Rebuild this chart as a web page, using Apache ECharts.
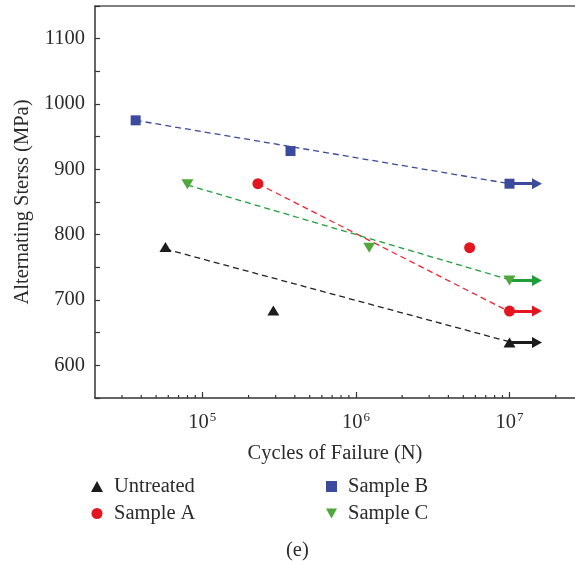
<!DOCTYPE html>
<html><head><meta charset="utf-8">
<script src="https://cdn.jsdelivr.net/npm/echarts@6/dist/echarts.min.js"></script>
<style>html,body{margin:0;padding:0;background:#fff}#c{width:575px;height:565px}</style>
</head><body><div id="c"></div>
<script>
// ---- data ----
const untreated = [[5.75e4, 781], [2.9e5, 684], [1e7, 635]];
const sampleA = [[2.3e5, 878], [5.5e6, 780], [1e7, 683]];
const sampleB = [[3.68e4, 975], [3.75e5, 928], [1e7, 878]];
const sampleC = [[8e4, 877], [1.22e6, 780], [1e7, 730]];
const fitUntreated = [[5.75e4, 778], [1e7, 636]];
const fitA = [[2.3e5, 878], [1e7, 682]];
const fitB = [[3.68e4, 975], [1e7, 878]];
const fitC = [[8e4, 876], [1e7, 731]];
const runoutX = 1e7, arrowEndX = 1.51e7;
const runoutUntreated = 635, runoutA = 683, runoutB = 878, runoutC = 730;
const xMin = 2e4, xMax = 2.67e7, yMin = 550, yMax = 1150, yStep = 50;
const minorTicksX = [3e4,4e4,5e4,6e4,7e4,8e4,9e4,2e5,3e5,4e5,5e5,6e5,7e5,8e5,9e5,2e6,3e6,4e6,5e6,6e6,7e6,8e6,9e6,2e7];
const names = ['Untreated', 'Sample A', 'Sample B', 'Sample C'];
const xTitle = 'Cycles of Failure (N)', yTitle = 'Alternating Sterss (MPa)', caption = '(e)';

const FONT = 'Liberation Serif';
const TXT = '#2b2b2b';
const cBlack = '#1c1c1c', cRed = '#e3151f', cBlue = '#3b4a9c', cGreen = '#4fa83a', cGreenLine = '#1f9e3c';
const downTri = 'path://M0,0 L10,0 L5,9 Z';

function arrow(y, color) {
  return {
    silent: true, symbol: ['none', 'triangle'], symbolSize: [11, 10],
    lineStyle: { color: color, width: 3, type: 'solid', opacity: 1 }, label: { show: false },
    emphasis: { disabled: true },
    data: [[{ coord: [runoutX, y] }, { coord: [arrowEndX, y] }]]
  };
}
function fit(data, color) {
  return { type: 'line', data: data, showSymbol: false, symbol: 'none', silent: true, z: 1,
    lineStyle: { color: color, width: 1.3, type: [6, 4] } };
}
function scatter(name, data, symbol, size, color, arrowY, arrowColor) {
  return { name: name, type: 'scatter', data: data, symbol: symbol, symbolSize: size, z: 5,
    itemStyle: { color: color, opacity: 1 }, markLine: arrow(arrowY, arrowColor) };
}

const chart = echarts.init(document.getElementById('c'), null, { renderer: 'canvas' });
chart.setOption({
  animation: false,
  grid: { left: 95, right: 0, top: 6, bottom: 167, containLabel: false },
  xAxis: [{
    type: 'log', logBase: 10, min: xMin, max: xMax,
    name: xTitle, nameLocation: 'middle', nameGap: 45,
    nameTextStyle: { fontFamily: FONT, fontSize: 20.5, color: TXT },
    axisLine: { lineStyle: { color: '#333', width: 1.5 } },
    axisTick: { inside: true, length: 6, lineStyle: { color: '#333', width: 1.2 } },
    splitLine: { show: false },
    axisLabel: {
      margin: 13, showMinLabel: false, showMaxLabel: false,
      formatter: function (v) {
        const e = Math.log10(v);
        if (Math.abs(e - Math.round(e)) > 1e-6) return '';
        return '{b|10}{s|' + Math.round(e) + '}';
      },
      rich: {
        b: { fontFamily: FONT, fontSize: 20.5, color: TXT },
        s: { fontFamily: FONT, fontSize: 13, color: TXT, padding: [0, 0, 11, 1] }
      }
    }
  }, {
    type: 'value', position: 'top', min: 0, max: 1, show: true,
    axisLine: { show: true, lineStyle: { color: '#555', width: 1.5 } },
    axisTick: { show: false }, axisLabel: { show: false }, splitLine: { show: false }
  }],
  yAxis: {
    type: 'value', min: yMin, max: yMax, interval: yStep,
    name: yTitle, nameLocation: 'middle', nameGap: 57, nameRotate: 90,
    nameTextStyle: { fontFamily: FONT, fontSize: 20.5, color: TXT },
    axisLine: { show: true, lineStyle: { color: '#333', width: 1.5 } },
    axisTick: { inside: true, length: 5, lineStyle: { color: '#333', width: 1.2 } },
    splitLine: { show: false },
    axisLabel: {
      margin: 10, fontFamily: FONT, fontSize: 20.5, color: TXT,
      formatter: function (v) { return v % 100 === 0 ? String(v) : ''; }
    }
  },
  legend: [{
    orient: 'vertical', left: 91, top: 476, padding: 0, itemGap: 6,
    itemWidth: 12, itemHeight: 11,
    textStyle: { fontFamily: FONT, fontSize: 20.5, color: TXT, lineHeight: 20, padding: [0, 0, 0, 6] },
    data: [{ name: 'Untreated', icon: 'triangle' }, { name: 'Sample A', icon: 'circle' }]
  }, {
    orient: 'vertical', left: 326, top: 476, padding: 0, itemGap: 6,
    itemWidth: 11, itemHeight: 11,
    textStyle: { fontFamily: FONT, fontSize: 20.5, color: TXT, lineHeight: 20, padding: [0, 0, 0, 6] },
    data: [{ name: 'Sample B', icon: 'rect' }, { name: 'Sample C', icon: downTri }]
  }],
  graphic: [{
    type: 'text', left: 286, top: 540,
    style: { text: caption, fontFamily: FONT, fontSize: 20.5, fill: TXT }
  }],
  series: [
    fit(fitUntreated, '#222'),
    fit(fitA, '#ec2530'),
    fit(fitB, '#3b4a9c'),
    fit(fitC, cGreenLine),
    { type: 'custom', silent: true, z: 3,
      data: minorTicksX.map(v => [v, yMin]),
      renderItem: function (params, api) {
        const p = api.coord([api.value(0), api.value(1)]);
        return { type: 'line', shape: { x1: p[0], y1: p[1], x2: p[0], y2: p[1] - 3 },
          style: { stroke: '#333', lineWidth: 1.2 } };
      } },
    scatter(names[0], untreated, 'triangle', [12, 10], cBlack, runoutUntreated, cBlack),
    scatter(names[1], sampleA, 'circle', 11, cRed, runoutA, cRed),
    scatter(names[2], sampleB, 'rect', 10, cBlue, runoutB, cBlue),
    scatter(names[3], sampleC, downTri, [12, 10], cGreen, runoutC, cGreenLine)
  ]
});
</script></body></html>
